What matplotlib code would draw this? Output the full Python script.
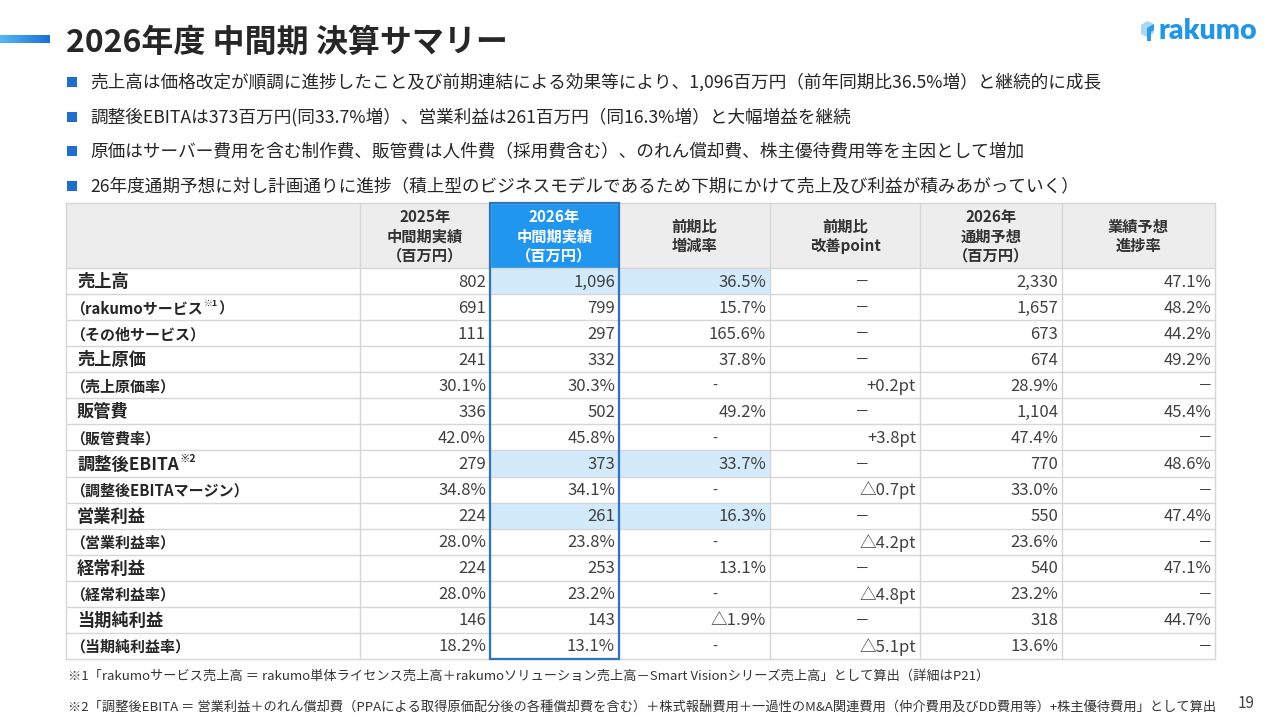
import matplotlib
matplotlib.use("Agg")
import matplotlib.pyplot as plt
import numpy as np
from matplotlib.patches import Rectangle, Polygon

plt.rcParams['font.family'] = ['Noto Sans CJK JP', 'DejaVu Sans']

# データ
title = "2026年度 中間期 決算サマリー"
bullets = [
    "売上高は価格改定が順調に進捗したこと及び前期連結による効果等により、1,096百万円（前年同期比36.5%増）と継続的に成長",
    "調整後EBITAは373百万円(同33.7%増）、営業利益は261百万円（同16.3%増）と大幅増益を継続",
    "原価はサーバー費用を含む制作費、販管費は人件費（採用費含む）、のれん償却費、株主優待費用等を主因として増加",
    "26年度通期予想に対し計画通りに進捗（積上型のビジネスモデルであるため下期にかけて売上及び利益が積みあがっていく）",
]
headers = ["", "2025年\n中間期実績\n（百万円）", "2026年\n中間期実績\n（百万円）",
           "前期比\n増減率", "前期比\n改善point", "2026年\n通期予想\n（百万円）", "業績予想\n進捗率"]
labels = ["売上高", "（rakumoサービス", "（その他サービス）", "売上原価", "（売上原価率）",
          "販管費", "（販管費率）", "調整後EBITA", "（調整後EBITAマージン）", "営業利益",
          "（営業利益率）", "経常利益", "（経常利益率）", "当期純利益", "（当期純利益率）"]
label_sup = {1: ("※1", "）"), 7: ("※2", "")}
main_rows = [0, 3, 5, 7, 9, 11, 13]
h1_2025 = ["802", "691", "111", "241", "30.1%", "336", "42.0%", "279", "34.8%",
           "224", "28.0%", "224", "28.0%", "146", "18.2%"]
h1_2026 = ["1,096", "799", "297", "332", "30.3%", "502", "45.8%", "373", "34.1%",
           "261", "23.8%", "253", "23.2%", "143", "13.1%"]
yoy_rate = ["36.5%", "15.7%", "165.6%", "37.8%", "-", "49.2%", "-", "33.7%", "-",
            "16.3%", "-", "13.1%", "-", "△1.9%", "-"]
yoy_point = ["－", "－", "－", "－", "+0.2pt", "－", "+3.8pt", "－", "△0.7pt",
             "－", "△4.2pt", "－", "△4.8pt", "－", "△5.1pt"]
fy_forecast = ["2,330", "1,657", "673", "674", "28.9%", "1,104", "47.4%", "770", "33.0%",
               "550", "23.6%", "540", "23.2%", "318", "13.6%"]
progress = ["47.1%", "48.2%", "44.2%", "49.2%", "－", "45.4%", "－", "48.6%", "－",
            "47.4%", "－", "47.1%", "－", "44.7%", "－"]
highlight_rows = [0, 7, 9]
footnotes = [
    "※1「rakumoサービス売上高 ＝ rakumo単体ライセンス売上高＋rakumoソリューション売上高－Smart Visionシリーズ売上高」として算出（詳細はP21）",
    "※2「調整後EBITA ＝ 営業利益＋のれん償却費（PPAによる取得原価配分後の各種償却費を含む）＋株式報酬費用＋一過性のM&A関連費用（仲介費用及びDD費用等）+株主優待費用」として算出",
]
page_no = "19"

columns = [h1_2025, h1_2026, yoy_rate, yoy_point, fy_forecast, progress]

# レイアウト
col_x = [66, 360, 490, 619, 770, 920, 1062, 1215]
head_top, head_bot, tab_bot = 203, 268, 659
row_h = (tab_bot - head_bot) / len(labels)
dash_off = {2: 55, 3: 58, 5: 10}

grid_c = "#d6d6d6"
blue = "#2196ee"
light = "#d3eafb"
border = "#2f74c0"

fig = plt.figure(figsize=(12.8, 7.2), dpi=100)
ax = fig.add_axes([0, 0, 1, 1])
ax.set_xlim(0, 1280)
ax.set_ylim(720, 0)
ax.axis("off")

# タイトル帯
grad = np.linspace(0, 1, 100).reshape(1, -1)
cmap = matplotlib.colors.LinearSegmentedColormap.from_list("bar", ["#55b8f5", "#1c6fd6"])
ax.imshow(grad, extent=(0, 50, 43, 35), cmap=cmap, aspect="auto", zorder=2)
ax.text(66, 43, title, fontsize=23, fontweight="bold", color="#262626", va="center", ha="left")

# ロゴ
ax.add_patch(Polygon([[1141, 25], [1147, 21], [1154, 24], [1154, 33], [1147, 37], [1141, 34]],
                     closed=True, fc="#a9d8f7", ec="none"))
ax.add_patch(Polygon([[1147, 28], [1154, 24], [1154, 30], [1151, 32], [1151, 41], [1147, 41]],
                     closed=True, fc="#2b9be6", ec="none"))
ax.text(1158, 31, "rakumo", fontsize=20.5, fontweight="heavy", color="#2196e6",
        family=["Lato", "DejaVu Sans"], va="center", ha="left")

# 箇条書き
for i, b in enumerate(bullets):
    y = 82 + i * 34.7
    ax.add_patch(Rectangle((67, y - 5), 10, 10, fc="#1f6fc9", ec="none"))
    ax.text(90, y, b, fontsize=12.7, color="#262626", va="center", ha="left")

# 表：ヘッダー
ax.add_patch(Rectangle((col_x[0], head_top), col_x[-1] - col_x[0], head_bot - head_top,
                       fc="#ededed", ec="none"))
ax.add_patch(Rectangle((col_x[2], head_top), col_x[3] - col_x[2], head_bot - head_top,
                       fc=blue, ec="none"))
for j, h in enumerate(headers):
    if not h:
        continue
    cx = (col_x[j] + col_x[j + 1]) / 2
    ax.text(cx, (head_top + head_bot) / 2 + 1, h, fontsize=11, fontweight="bold",
            color="white" if j == 2 else "#333333", ha="center", va="center", linespacing=1.25)

# ハイライト
for r in highlight_rows:
    y0 = head_bot + r * row_h
    ax.add_patch(Rectangle((col_x[2], y0), col_x[4] - col_x[2], row_h, fc=light, ec="none"))

# 罫線
for r in range(len(labels) + 1):
    y = head_bot + r * row_h
    ax.plot([col_x[0], col_x[-1]], [y, y], color=grid_c, lw=1)
ax.plot([col_x[0], col_x[-1]], [head_top, head_top], color=grid_c, lw=1)
for x in col_x:
    ax.plot([x, x], [head_top, tab_bot], color=grid_c, lw=1)
ax.add_patch(Rectangle((col_x[2], head_top), col_x[3] - col_x[2], tab_bot - head_top,
                       fc="none", ec=border, lw=1.6, zorder=5))

# 行ラベルと値
fig.canvas.draw()
renderer = fig.canvas.get_renderer()
inv = ax.transData.inverted()
for r, lab in enumerate(labels):
    yc = head_bot + (r + 0.5) * row_h + 1
    is_main = r in main_rows
    fs = 12.4 if is_main else 10.8
    x0 = 77 if is_main else 70
    t = ax.text(x0, yc, lab, fontsize=fs, fontweight="bold", color="#262626", va="center", ha="left")
    if r in label_sup:
        sup, tail = label_sup[r]
        bb = t.get_window_extent(renderer)
        xe = inv.transform((bb.x1, bb.y1))[0]
        s = ax.text(xe + 1, yc - fs * 0.45, sup, fontsize=fs * 0.6, fontweight="bold",
                    color="#262626", va="center", ha="left")
        if tail:
            bb2 = s.get_window_extent(renderer)
            xe2 = inv.transform((bb2.x1, bb2.y1))[0]
            ax.text(xe2, yc, tail, fontsize=fs, fontweight="bold", color="#262626",
                    va="center", ha="left")
    for j, col in enumerate(columns):
        v = col[r]
        right = col_x[j + 2]
        if v in ("-", "－"):
            ax.text(right - dash_off.get(j, 10), yc, v, fontsize=10.5, color="#404040",
                    va="center", ha="center")
        else:
            ax.text(right - 4, yc, v, fontsize=12, color="#404040", va="center", ha="right")

# 注記
ax.text(68, 676, footnotes[0], fontsize=9.5, color="#333333", va="center", ha="left")
ax.text(68, 707, footnotes[1], fontsize=9.5, color="#333333", va="center", ha="left")
ax.text(1246, 704, page_no, fontsize=11, color="#404040", va="center", ha="center")

fig.savefig("out.png", dpi=100)
